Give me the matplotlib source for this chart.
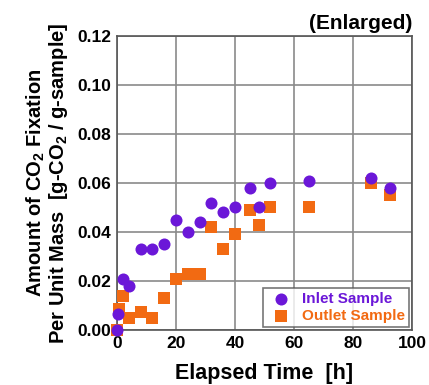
import matplotlib
matplotlib.use('Agg')
import matplotlib.pyplot as plt

# data
inlet_time = [0, 0.5, 2, 4, 8, 12, 16, 20, 24, 28, 32, 36, 40, 45, 48, 52, 65, 86, 92.5]
inlet_value = [0.000, 0.0065, 0.021, 0.018, 0.033, 0.033, 0.035, 0.045, 0.040, 0.044,
               0.052, 0.048, 0.050, 0.058, 0.050, 0.060, 0.061, 0.062, 0.058]

outlet_time = [0, 0.7, 2, 4, 8, 12, 16, 20, 24, 28, 32, 36, 40, 45, 48, 52, 65, 86, 92.5]
outlet_value = [0.000, 0.0085, 0.014, 0.005, 0.0075, 0.005, 0.013, 0.021, 0.023, 0.023,
                0.042, 0.033, 0.039, 0.049, 0.043, 0.050, 0.050, 0.060, 0.055]

x_ticks = [0, 20, 40, 60, 80, 100]
y_ticks = [0.00, 0.02, 0.04, 0.06, 0.08, 0.10, 0.12]

purple = '#6B17D8'
orange = '#F26A12'

plt.rcParams['font.family'] = ['Liberation Sans', 'DejaVu Sans']
plt.rcParams['font.weight'] = 'bold'
plt.rcParams['mathtext.fontset'] = 'custom'
plt.rcParams['mathtext.rm'] = 'Liberation Sans:bold'
plt.rcParams['mathtext.bf'] = 'Liberation Sans:bold'
plt.rcParams['mathtext.default'] = 'bf'

fig = plt.figure(figsize=(4.29, 3.85), dpi=100)
ax = fig.add_axes([0.2727, 0.1429, 0.6877, 0.7636])

ax.scatter(outlet_time, outlet_value, marker='s', s=70, color=orange,
           label='Outlet Sample', zorder=3, clip_on=False, linewidths=0)
ax.scatter(inlet_time, inlet_value, marker='o', s=75, color=purple,
           label='Inlet Sample', zorder=4, clip_on=False, linewidths=0)

ax.set_xlim(0, 100)
ax.set_ylim(0, 0.12)
ax.set_xticks(x_ticks)
ax.set_yticks(y_ticks)
ax.set_yticklabels(['%.2f' % v for v in y_ticks])
ax.tick_params(labelsize=12.5, length=0, pad=4)
ax.grid(True, color='#8a8a8a', linewidth=1.2)
ax.set_axisbelow(True)
for sp in ax.spines.values():
    sp.set_color('#555555')
    sp.set_linewidth(1.2)

ax.set_xlabel('Elapsed Time  [h]', fontsize=15.5, fontweight='bold', labelpad=9)
ax.set_ylabel('Amount of CO$_2$ Fixation\nPer Unit Mass  [g-CO$_2$ / g-sample]',
              fontsize=14.5, fontweight='bold', labelpad=5, linespacing=1.0)
ax.set_title('(Enlarged)', loc='right', fontsize=15, fontweight='bold', pad=5)

handles, labels = ax.get_legend_handles_labels()
leg = ax.legend(handles[::-1], labels[::-1], loc='lower right', fontsize=11,
                frameon=True, fancybox=False, edgecolor='#555555',
                handletextpad=0.5, borderpad=0.25, labelspacing=0.2,
                borderaxespad=0.2, handlelength=1.8)
leg.get_frame().set_linewidth(1.2)
for txt, col in zip(leg.get_texts(), [purple, orange]):
    txt.set_color(col)
    txt.set_fontweight('bold')

fig.savefig('out.png', dpi=100)
